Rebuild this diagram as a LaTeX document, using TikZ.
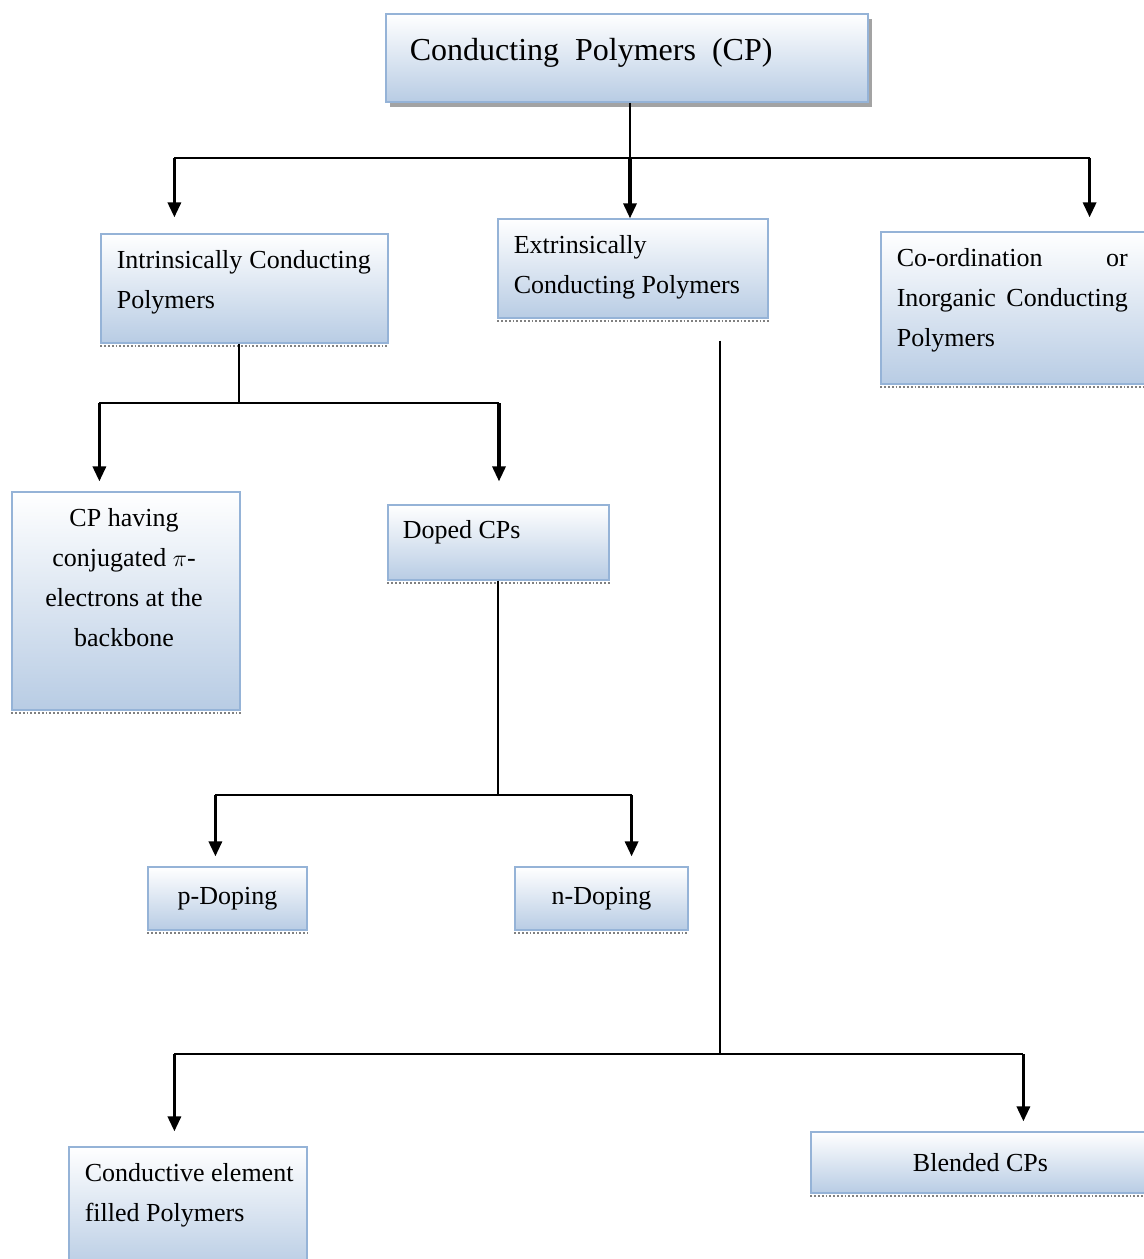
\documentclass[tikz,border=0pt]{standalone}
\usepackage{fontspec}
\setmainfont{Liberation Serif}
\usetikzlibrary{arrows.meta,shadows}
\definecolor{boxline}{HTML}{95B3D7}
\definecolor{boxfill}{HTML}{B8CCE4}
\tikzset{%
  >={Triangle[width=6.5pt,length=7.5pt]},
  % Specifications for style of boxes and texts:
   plainbox/.style = {rectangle, draw=boxline, line width=0.6pt,
                      top color=white, bottom color=boxfill, inner sep=0pt,
                      font=\fontsize{13}{20}\selectfont},
        box/.style = {plainbox, append after command={
                      ([yshift=-1.2pt]\tikzlastnode.south west) edge[densely dotted,
                      gray, line width=0.9pt] ([yshift=-1.2pt]\tikzlastnode.south east)}},
   titlebox/.style = {plainbox, drop shadow={shadow xshift=2pt, shadow yshift=-2.5pt,
                      fill=black!60, opacity=0.6}},
        txt/.style = {inner sep=0pt, anchor=north west, align=left,
                      font=\fontsize{13}{20}\selectfont},
       link/.style = {line width=1pt},
      arrow/.style = {line width=1.6pt, ->},
}
\begin{document}
\begin{tikzpicture}[x=0.5pt, y=-0.5pt]
  \useasboundingbox (0,0) rectangle (1144,1259);
  % Specification of boxes (centre, size)
  \node (cp)     [titlebox, minimum width=241pt, minimum height=44pt]   at (627,58)      {};
  \node (icp)    [box, minimum width=143.5pt, minimum height=54.5pt]    at (244.5,288.5) {};
  \node (ecp)    [box, minimum width=135pt, minimum height=49.5pt]      at (633,268.5)   {};
  \node (coord)  [box, minimum width=134.5pt, minimum height=76pt]      at (1015.5,308)  {};
  \node (conj)   [box, minimum width=114pt, minimum height=109pt]       at (126,601)     {};
  \node (doped)  [box, minimum width=110.5pt, minimum height=37.5pt]    at (498.5,542.5) {};
  \node (pdop)   [box, minimum width=79.5pt, minimum height=31.5pt]     at (227.5,898.5) {p-Doping};
  \node (ndop)   [box, minimum width=86.5pt, minimum height=31.5pt]     at (601.5,898.5) {n-Doping};
  \node (filled) [box, minimum width=119pt, minimum height=61.5pt]      at (188,1208.5)  {};
  \node (blend)  [box, minimum width=169.5pt, minimum height=30.5pt]    at (980.5,1162.5) {Blended CPs};
  % Texts inside the boxes
  \node (cpT)     [txt, font=\fontsize{16}{20}\selectfont] at ([shift={(12pt,-12pt)}]cp.north west)
                  {Conducting\ \ Polymers\ \ (CP)};
  \node (icpT)    [txt, text width=127pt] at ([shift={(8pt,-8.5pt)}]icp.north west)
                  {Intrinsically\hfill Conducting\\Polymers};
  \node (ecpT)    [txt] at ([shift={(8pt,-8.5pt)}]ecp.north west)
                  {Extrinsically\\Conducting Polymers};
  \node (coordT)  [txt, text width=115.5pt] at ([shift={(8pt,-8.5pt)}]coord.north west)
                  {Co-ordination\hfill or\\Inorganic\hfill Conducting\\Polymers};
  \node (conjT)   [txt, anchor=north, align=center] at ([shift={(-1pt,-8.5pt)}]conj.north)
                  {CP having\\conjugated $\pi$-\\electrons at the\\backbone};
  \node (dopedT)  [txt] at ([shift={(7.5pt,-8pt)}]doped.north west) {Doped CPs};
  \node (filledT) [txt] at ([shift={(8pt,-8.5pt)}]filled.north west)
                  {Conductive element\\filled Polymers};
  % Connectors between the boxes: stems and buses
  \coordinate (b1) at (630,158);
  \coordinate (t1) at ([xshift=37pt,yshift=8pt]icp.north west);
  \coordinate (t2) at ([xshift=-30.5pt,yshift=7pt]coord.north east);
  \draw[line width=0.8pt] (cp.south -| b1) -- (b1);
  \draw[link] (b1 -| t1) -- (b1 -| t2);
  \coordinate (b2) at (239,403);
  \coordinate (t3) at ([xshift=44pt,yshift=5pt]conj.north west);
  \coordinate (t4) at ([xshift=0.25pt,yshift=11.5pt]doped.north);
  \draw[line width=0.8pt] (icp.south -| b2) -- (b2);
  \draw[link] (b2 -| t3) -- (b2 -| t4);
  \coordinate (b3) at (498,795);
  \coordinate (t5) at ([xshift=34pt,yshift=5pt]pdop.north west);
  \coordinate (t6) at ([xshift=-28.5pt,yshift=5pt]ndop.north east);
  \draw[line width=0.8pt] (doped.south -| b3) -- (b3);
  \draw[link] (b3 -| t5) -- (b3 -| t6);
  \coordinate (b4) at (720,1054);
  \coordinate (e1) at ([yshift=-11pt]ecp.south -| b4);
  \coordinate (t7) at ([xshift=53pt,yshift=7.5pt]filled.north west);
  \coordinate (t8) at ([xshift=106.5pt,yshift=5pt]blend.north west);
  \draw[line width=0.8pt] (e1) -- (b4);
  \draw[link] (b4 -| t7) -- (b4 -| t8);
  % arrows down to the boxes
  \draw[arrow] (b1 -| t1) -- (t1);
  \draw[arrow] (b1) -- (b1 |- ecp.north);
  \draw[arrow] (b1 -| t2) -- (t2);
  \draw[arrow] (b2 -| t3) -- (t3);
  \draw[arrow] (b2 -| t4) -- (t4);
  \draw[arrow] (b3 -| t5) -- (t5);
  \draw[arrow] (b3 -| t6) -- (t6);
  \draw[arrow] (b4 -| t7) -- (t7);
  \draw[arrow] (b4 -| t8) -- (t8);
\end{tikzpicture}
\end{document}
